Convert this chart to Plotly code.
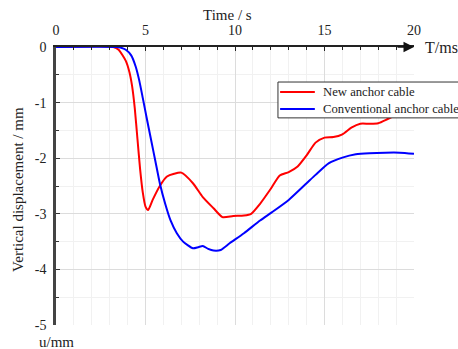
import plotly.graph_objects as go

# ---- data ----
t_new = [0, 3.2, 3.5, 3.9, 4.1, 4.25, 4.4, 4.55, 4.7, 4.85, 5.0, 5.15, 5.4, 5.8, 6.2, 6.6, 7.0,
         7.65, 8.2, 8.8, 9.3, 9.9, 10.5, 10.9, 11.4, 12.0, 12.5, 13.0, 13.5, 14.0, 14.5, 15.0,
         15.5, 16.0, 16.5, 17.0, 17.5, 18.0, 18.5, 19.0, 19.5, 20.0]
u_new = [0, 0, -0.05, -0.25, -0.45, -0.7, -1.1, -1.65, -2.2, -2.62, -2.87, -2.93, -2.75, -2.5,
         -2.33, -2.28, -2.26, -2.45, -2.7, -2.9, -3.06, -3.04, -3.03, -3.0, -2.82, -2.55, -2.31,
         -2.25, -2.15, -1.95, -1.72, -1.63, -1.62, -1.57, -1.45, -1.38, -1.38, -1.37, -1.3,
         -1.22, -1.15, -1.1]

t_conv = [0, 3.4, 3.6, 3.9, 4.2, 4.45, 4.65, 4.85, 5.05, 5.3, 5.55, 5.8, 6.1, 6.4, 6.75, 7.1,
          7.65, 7.95, 8.2, 8.5, 8.8, 9.2, 9.7, 10.5, 11.4, 12.07, 13.0, 14.0, 14.5, 15.25, 16.0,
          16.75, 17.5, 18.4, 19.2, 20.0]
u_conv = [0, 0, -0.01, -0.05, -0.15, -0.35, -0.6, -0.92, -1.25, -1.65, -2.05, -2.45, -2.82,
          -3.12, -3.35, -3.5, -3.62, -3.6, -3.58, -3.63, -3.66, -3.65, -3.53, -3.35, -3.12,
          -2.97, -2.75, -2.45, -2.3, -2.09, -1.99, -1.93, -1.91, -1.9, -1.9, -1.92]

series_names = ["New anchor cable", "Conventional anchor cable"]
series_colors = ["#ff0000", "#0000ff"]
x_ticks = [0, 5, 10, 15, 20]
y_ticks = [0, -1, -2, -3, -4, -5]

FONT = "Liberation Serif"

fig = go.Figure()
fig.add_trace(go.Scatter(x=t_new, y=u_new, mode="lines", name=series_names[0],
                         line=dict(color=series_colors[0], width=2, shape="spline", smoothing=0.6),
                         showlegend=False))
fig.add_trace(go.Scatter(x=t_conv, y=u_conv, mode="lines", name=series_names[1],
                         line=dict(color=series_colors[1], width=2, shape="spline", smoothing=0.6),
                         showlegend=False))

fig.update_layout(
    width=458, height=349,
    margin=dict(l=56, r=44, t=47, b=24),
    paper_bgcolor="white", plot_bgcolor="white",
    font=dict(family=FONT, size=13, color="#222"),
    showlegend=False,
)

fig.update_xaxes(
    side="top", range=[0, 20], tickvals=x_ticks, ticks="inside", ticklen=4, tickwidth=1,
    tickcolor="#222", showline=True, linecolor="#222", linewidth=1.5,
    showgrid=True, gridcolor="#dcdcdc", gridwidth=1, zeroline=False,
    tickfont=dict(family=FONT, size=14, color="#222"),
    ticklabelstandoff=5,
    minor=dict(dtick=1, ticks="inside", ticklen=3, tickcolor="#222",
               showgrid=True, gridcolor="#f1f1f1", gridwidth=1),
)
fig.update_yaxes(
    range=[-5, 0], tickvals=y_ticks, ticktext=[str(v) for v in y_ticks],
    ticks="inside", ticklen=4, tickwidth=1,
    tickcolor="#333", showline=True, linecolor="#444", linewidth=2.5,
    showgrid=True, gridcolor="#dcdcdc", gridwidth=1, zeroline=False,
    tickfont=dict(family=FONT, size=14, color="#222"),
    ticklabelstandoff=4,
    minor=dict(dtick=0.5, ticks="inside", ticklen=3, tickcolor="#333",
               showgrid=True, gridcolor="#f1f1f1", gridwidth=1),
)

# axis arrows
fig.add_annotation(x=20, y=0, xref="x", yref="y", ax=-18, ay=0,
                   text="", showarrow=True, arrowhead=2, arrowsize=1.4, arrowwidth=1.5,
                   arrowcolor="#111")
fig.add_annotation(x=0, y=-5.05, xref="x", yref="y", ax=0, ay=-18,
                   text="", showarrow=True, arrowhead=2, arrowsize=1.3, arrowwidth=2,
                   arrowcolor="#222")

# axis titles
fig.add_annotation(x=0.478, y=1.115, xref="paper", yref="paper", text="Time / s",
                   showarrow=False, font=dict(family=FONT, size=15, color="#222"),
                   xanchor="center", yanchor="middle")
fig.add_annotation(x=1.025, y=1.0, xref="paper", yref="paper", text="T/ms",
                   showarrow=False, font=dict(family=FONT, size=16, color="#222"),
                   xanchor="left", yanchor="middle")
fig.add_annotation(x=0.0, y=-0.061, xref="paper", yref="paper", text="u/mm",
                   showarrow=False, font=dict(family=FONT, size=15, color="#222"),
                   xanchor="center", yanchor="middle")
fig.add_annotation(x=-0.106, y=0.486, xref="paper", yref="paper",
                   text="Vertical displacement / mm", textangle=-90,
                   showarrow=False, font=dict(family=FONT, size=15, color="#222"),
                   xanchor="center", yanchor="middle")

# manual legend
fig.add_shape(type="rect", xref="paper", yref="paper", x0=0.620, x1=1.25, y0=0.745, y1=0.874,
              fillcolor="white", line=dict(color="#333", width=1), layer="above")
leg_y = [0.838, 0.777]
for name, color, yy in zip(series_names, series_colors, leg_y):
    fig.add_shape(type="line", xref="paper", yref="paper", x0=0.626, x1=0.723, y0=yy, y1=yy,
                  line=dict(color=color, width=2), layer="above")
    fig.add_annotation(x=0.739, y=yy, xref="paper", yref="paper", text=name, showarrow=False,
                       xanchor="left", yanchor="middle",
                       font=dict(family=FONT, size=12.7, color="#222"))

fig.write_html("out.html")
